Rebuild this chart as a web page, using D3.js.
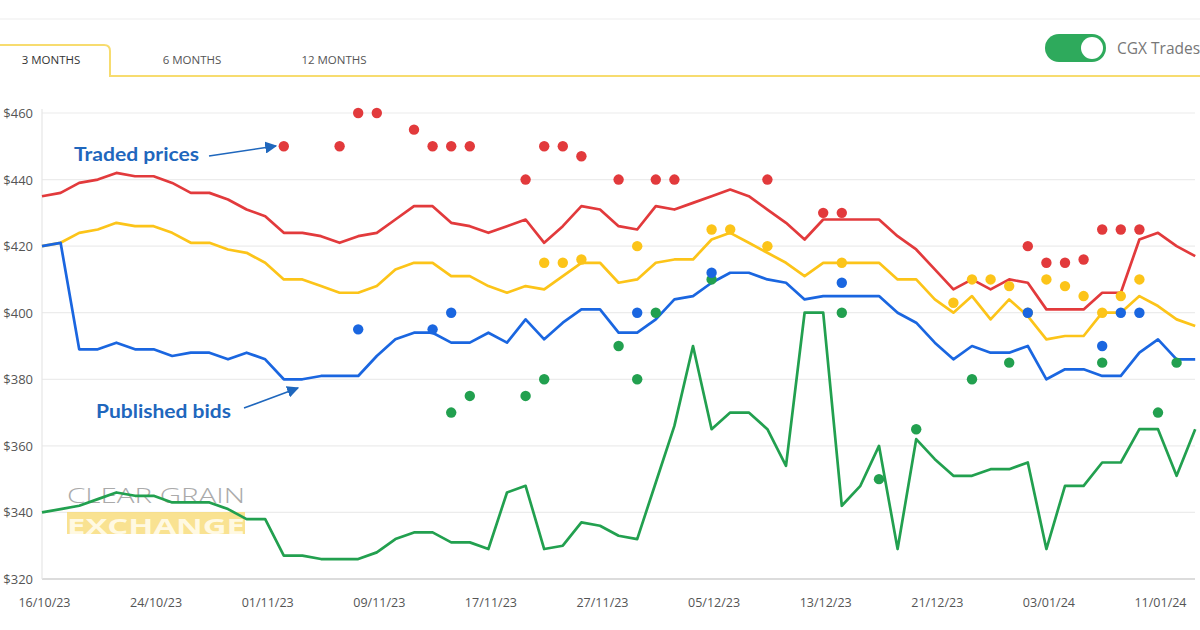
<!DOCTYPE html>
<html>
<head>
<meta charset="utf-8">
<script src="https://cdn.jsdelivr.net/npm/d3@7"></script>
<style>
  html, body { margin: 0; padding: 0; background: #ffffff; }
  svg { display: block; }
</style>
</head>
<body>
<svg id="chart" width="1200" height="630"></svg>
<script>
// ---------------- DATA ----------------
const dates = [
  "16/10/23","17/10/23","18/10/23","19/10/23","20/10/23","23/10/23","24/10/23","25/10/23","26/10/23","27/10/23",
  "30/10/23","31/10/23","01/11/23","02/11/23","03/11/23","06/11/23","07/11/23","08/11/23","09/11/23","10/11/23",
  "13/11/23","14/11/23","15/11/23","16/11/23","17/11/23","20/11/23","21/11/23","22/11/23","23/11/23","24/11/23",
  "27/11/23","28/11/23","29/11/23","30/11/23","01/12/23","04/12/23","05/12/23","06/12/23","07/12/23","08/12/23",
  "11/12/23","12/12/23","13/12/23","14/12/23","15/12/23","18/12/23","19/12/23","20/12/23","21/12/23","22/12/23",
  "27/12/23","28/12/23","29/12/23","02/01/24","03/01/24","04/01/24","05/01/24","08/01/24","09/01/24","10/01/24",
  "11/01/24","12/01/24","15/01/24"
];
const xTickLabels = ["16/10/23","24/10/23","01/11/23","09/11/23","17/11/23","27/11/23","05/12/23","13/12/23","21/12/23","03/01/24","11/01/24"];
const yTicks = [320, 340, 360, 380, 400, 420, 440, 460];

const redBids = [435,436,439,440,442,441,441,439,436,436,434,431,429,424,424,423,421,423,424,428,
  432,432,427,426,424,426,428,421,426,432,431,426,425,432,431,433,435,437,435,431,
  427,422,428,428,428,428,423,419,413,407,410,407,410,409,401,401,401,406,406,422,424,420,417];
const yellowBids = [420,421,424,425,427,426,426,424,421,421,419,418,415,410,410,408,406,406,408,413,
  415,415,411,411,408,406,408,407,411,415,415,409,410,415,416,416,422,424,421,418,
  415,411,415,415,415,415,410,410,404,400,405,398,404,399,392,393,393,400,400,405,402,398,396];
const blueBids = [420,421,389,389,391,389,389,387,388,388,386,388,386,380,380,381,381,381,387,392,
  394,394,391,391,394,391,398,392,397,401,401,394,394,398,404,405,409,412,412,410,
  409,404,405,405,405,405,400,397,391,386,390,388,388,390,380,383,383,381,381,388,392,386,386];
const greenBids = [340,341,342,344,346,345,345,343,343,343,341,338,338,327,327,326,326,326,328,332,
  334,334,331,331,329,346,348,329,330,337,336,333,332,349,366,390,365,370,370,365,
  354,400,400,342,348,360,329,362,356,351,351,353,353,355,329,348,348,355,355,365,365,351,365];

// CGX trades: [date, price]
const redTrades = [["02/11/23",450],["07/11/23",450],["08/11/23",460],["09/11/23",460],["13/11/23",455],
  ["14/11/23",450],["15/11/23",450],["16/11/23",450],["21/11/23",440],["22/11/23",450],["23/11/23",450],
  ["24/11/23",447],["28/11/23",440],["30/11/23",440],["01/12/23",440],["08/12/23",440],["13/12/23",430],
  ["14/12/23",430],["02/01/24",420],["03/01/24",415],["04/01/24",415],["05/01/24",416],["08/01/24",425],
  ["09/01/24",425],["10/01/24",425]];
const yellowTrades = [["22/11/23",415],["23/11/23",415],["24/11/23",416],["29/11/23",420],["05/12/23",425],
  ["06/12/23",425],["08/12/23",420],["14/12/23",415],["22/12/23",403],["27/12/23",410],["28/12/23",410],
  ["29/12/23",408],["02/01/24",400],["03/01/24",410],["04/01/24",408],["05/01/24",405],["08/01/24",400],
  ["09/01/24",405],["10/01/24",410]];
const greenTrades = [["15/11/23",370],["16/11/23",375],["21/11/23",375],["22/11/23",380],["28/11/23",390],
  ["29/11/23",380],["30/11/23",400],["05/12/23",410],["14/12/23",400],["18/12/23",350],["20/12/23",365],
  ["27/12/23",380],["29/12/23",385],["08/01/24",385],["11/01/24",370],["12/01/24",385]];
const blueTrades = [["08/11/23",395],["14/11/23",395],["15/11/23",400],["29/11/23",400],["05/12/23",412],
  ["14/12/23",409],["02/01/24",400],["08/01/24",390],["09/01/24",400],["10/01/24",400]];

const tabs = ["3 MONTHS", "6 MONTHS", "12 MONTHS"];

// ---------------- STYLE ----------------
const C = { red: "#e23a3c", yellow: "#fcc419", blue: "#1a66e0", green: "#22a04f", annot: "#1f67bd" };

const svg = d3.select("#chart");

const x = d3.scalePoint().domain(dates).range([42, 1195.2]).padding(0);
const y = d3.scaleLinear().domain([320, 460]).range([579, 113]);

// faint header separator
svg.append("line").attr("x1", 0).attr("x2", 1200).attr("y1", 19).attr("y2", 19)
  .attr("stroke", "#f3f3f3").attr("stroke-width", 1.5);

// ---- tabs ----
svg.append("path")
  .attr("d", "M0,45 L104,45 Q110,45 110,51 L110,76 L1200,76")
  .attr("fill", "none").attr("stroke", "#f7dc6f").attr("stroke-width", 2);
const tabX = [51, 192, 334];
svg.selectAll("text.tab").data(tabs).join("text")
  .attr("class", "tab")
  .attr("x", (d, i) => tabX[i]).attr("y", 64)
  .attr("text-anchor", "middle")
  .attr("font-family", "Open Sans, sans-serif")
  .attr("font-size", 11.5)
  .attr("fill", (d, i) => i === 0 ? "#333" : "#555")
  .text(d => d);

// ---- toggle ----
svg.append("rect").attr("x", 1045).attr("y", 34).attr("width", 61).attr("height", 28).attr("rx", 14)
  .attr("fill", "#2eaa5c");
svg.append("circle").attr("cx", 1092).attr("cy", 48).attr("r", 11).attr("fill", "#fff");
svg.append("text").attr("x", 1117).attr("y", 54)
  .attr("font-family", "Open Sans, sans-serif").attr("font-size", 15.5).attr("fill", "#777")
  .text("CGX Trades");

// ---- grid ----
const grid = svg.append("g");
grid.selectAll("line").data(yTicks.filter(t => t !== 320)).join("line")
  .attr("x1", 42).attr("x2", 1195)
  .attr("y1", d => y(d)).attr("y2", d => y(d))
  .attr("stroke", "#ececec").attr("stroke-width", 1.2);
svg.append("line").attr("x1", 42).attr("x2", 1195).attr("y1", y(320)).attr("y2", y(320))
  .attr("stroke", "#dcdcdc").attr("stroke-width", 2);
svg.append("line").attr("x1", 42).attr("x2", 42).attr("y1", y(460) - 4).attr("y2", y(320))
  .attr("stroke", "#e6e6e6").attr("stroke-width", 1.2);

// ---- axes via d3 ----
const yAxis = d3.axisLeft(y).tickValues(yTicks).tickFormat(d => "$" + d).tickSize(0).tickPadding(0);
const gy = svg.append("g").attr("transform", "translate(33,0)").call(yAxis);
gy.select(".domain").remove();
gy.selectAll("text").attr("font-family", "Open Sans, sans-serif").attr("font-size", 13).attr("fill", "#555")
  .attr("dy", "0.35em");

const xAxis = d3.axisBottom(x).tickValues(xTickLabels).tickSize(0).tickPadding(0);
const gx = svg.append("g").attr("transform", "translate(2,598)").call(xAxis);
gx.select(".domain").remove();
gx.selectAll("text").attr("font-family", "Open Sans, sans-serif").attr("font-size", 12.5).attr("fill", "#555")
  .attr("dy", "0.7em");

// ---- watermark ----
const wm = svg.append("g").attr("opacity", 0.85);
wm.append("rect").attr("x", 67).attr("y", 512).attr("width", 178).attr("height", 22).attr("fill", "#f8dd7e");
wm.append("text").attr("x", 67).attr("y", 503)
  .attr("font-family", "Open Sans, sans-serif").attr("font-size", 21).attr("font-weight", 300)
  .attr("fill", "#9c9c9c").attr("textLength", 178).attr("lengthAdjust", "spacingAndGlyphs")
  .text("CLEAR GRAIN");
wm.append("text").attr("x", 67).attr("y", 533.5)
  .attr("font-family", "Open Sans, sans-serif").attr("font-size", 22).attr("font-weight", 700)
  .attr("fill", "#fff8de").attr("textLength", 178).attr("lengthAdjust", "spacingAndGlyphs")
  .text("EXCHANGE");

// ---- lines ----
const line = d3.line().x((d, i) => x(dates[i])).y(d => y(d));
const series = [
  { v: redBids, c: C.red }, { v: yellowBids, c: C.yellow },
  { v: blueBids, c: C.blue }, { v: greenBids, c: C.green }
];
svg.append("g").selectAll("path").data(series).join("path")
  .attr("d", d => line(d.v))
  .attr("fill", "none").attr("stroke", d => d.c).attr("stroke-width", 2.7)
  .attr("stroke-linejoin", "round");

// ---- trade dots ----
const trades = [
  { v: redTrades, c: C.red }, { v: yellowTrades, c: C.yellow },
  { v: greenTrades, c: C.green }, { v: blueTrades, c: C.blue }
];
trades.forEach(t => {
  svg.append("g").selectAll("circle").data(t.v).join("circle")
    .attr("cx", d => x(d[0])).attr("cy", d => y(d[1])).attr("r", 5.2)
    .attr("fill", t.c);
});

// ---- annotations ----
const defs = svg.append("defs");
defs.append("marker").attr("id", "arr").attr("viewBox", "0 0 10 10").attr("refX", 9).attr("refY", 5)
  .attr("markerWidth", 7.5).attr("markerHeight", 7.5).attr("orient", "auto")
  .append("path").attr("d", "M0,0 L10,5 L0,10 Z").attr("fill", C.annot);

svg.append("text").attr("x", 74).attr("y", 161)
  .attr("font-family", "Lato, sans-serif").attr("font-weight", 700).attr("font-size", 19)
  .attr("fill", C.annot).attr("textLength", 125).attr("lengthAdjust", "spacingAndGlyphs")
  .text("Traded prices");
svg.append("line").attr("x1", 209).attr("y1", 156).attr("x2", 276).attr("y2", 146)
  .attr("stroke", C.annot).attr("stroke-width", 1.6).attr("marker-end", "url(#arr)");

svg.append("text").attr("x", 96).attr("y", 418)
  .attr("font-family", "Lato, sans-serif").attr("font-weight", 700).attr("font-size", 19)
  .attr("fill", C.annot).attr("textLength", 135).attr("lengthAdjust", "spacingAndGlyphs")
  .text("Published bids");
svg.append("line").attr("x1", 244).attr("y1", 408).attr("x2", 298).attr("y2", 388)
  .attr("stroke", C.annot).attr("stroke-width", 1.6).attr("marker-end", "url(#arr)");
</script>
</body>
</html>
